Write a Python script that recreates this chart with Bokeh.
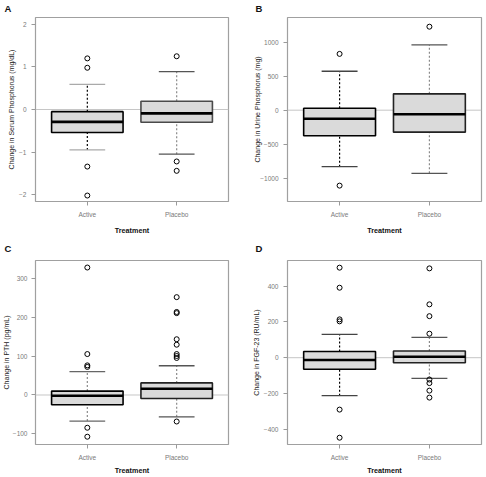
from bokeh.plotting import figure
from bokeh.models import Range1d, FixedTicker, Span, Title
from bokeh.layouts import gridplot
from bokeh.embed import file_html
from bokeh.resources import INLINE

groups = ["Active", "Placebo"]
group_x = [1, 2]

# Panel A: serum phosphorus (mg/dL)
serum_lower = [-0.95, -1.05]
serum_q1 = [-0.54, -0.30]
serum_median = [-0.29, -0.09]
serum_q3 = [-0.05, 0.195]
serum_upper = [0.59, 0.89]
serum_out_active = [1.20, 0.98, -1.34, -2.02]
serum_out_placebo = [1.25, -1.22, -1.44]
serum_ticks = [-2, -1, 0, 1, 2]

# Panel B: urine phosphorus (mg)
urine_lower = [-829, -927]
urine_q1 = [-375, -322]
urine_median = [-126, -59]
urine_q3 = [29, 240]
urine_upper = [571, 957]
urine_out_active = [826, -1107]
urine_out_placebo = [1225]
urine_ticks = [-1000, -500, 0, 500, 1000]

# Panel C: PTH (pg/mL)
pth_lower = [-67, -56]
pth_q1 = [-25, -9]
pth_median = [-2, 16]
pth_q3 = [10, 31]
pth_upper = [60, 75]
pth_out_active = [327, 105, 76, 72, -84, -107]
pth_out_placebo = [251, 213, 210, 143, 129, 105, 100, 95, -68]
pth_ticks = [-100, 0, 100, 200, 300]

# Panel D: FGF-23 (RU/mL)
fgf_lower = [-212, -116]
fgf_q1 = [-65, -28]
fgf_median = [-13, 5]
fgf_q3 = [35, 37]
fgf_upper = [130, 113]
fgf_out_active = [503, 391, 214, 203, -290, -447]
fgf_out_placebo = [499, 298, 232, 134, -122, -142, -184, -223]
fgf_ticks = [-400, -200, 0, 200, 400]

FONT = "Liberation Sans"
XMIN, XMAX = 0.42, 2.58


def panel(letter, ylabel, lower, q1, med, q3, upper, out_a, out_p, ticks, yr,
          width, height, borders, ylab_standoff, ylab_on_axis, ytick_standoff,
          xlab_standoff, letter_offset, letter_standoff,
          box_colors, whisker_colors, cap_colors):
    bl, br, bt, bb = borders
    p = figure(width=width, height=height, x_range=Range1d(XMIN, XMAX),
               y_range=Range1d(*yr), output_backend="svg", toolbar_location=None,
               min_border_left=bl, min_border_right=br, min_border_top=bt,
               min_border_bottom=bb)
    p.grid.visible = False
    p.outline_line_color = "#a0a0a0"
    p.outline_line_width = 1.2
    p.add_layout(Span(location=0, dimension="width", line_color="#c6c6c6",
                      line_width=1, level="underlay"))

    # whiskers
    p.segment(x0=group_x, y0=q3, x1=group_x, y1=upper, line_dash="2 2",
              line_color=whisker_colors, line_width=1.2)
    p.segment(x0=group_x, y0=lower, x1=group_x, y1=q1, line_dash="2 2",
              line_color=whisker_colors, line_width=1.2)
    # caps
    cx0 = [x - 0.2 for x in group_x]
    cx1 = [x + 0.2 for x in group_x]
    p.segment(x0=cx0, x1=cx1, y0=upper, y1=upper, line_color=cap_colors, line_width=1.3)
    p.segment(x0=cx0, x1=cx1, y0=lower, y1=lower, line_color=cap_colors, line_width=1.3)
    # boxes
    p.vbar(x=group_x, width=0.8, bottom=q1, top=q3, fill_color="#dadada",
           line_color=box_colors, line_width=1.6)
    # medians
    mx0 = [x - 0.4 for x in group_x]
    mx1 = [x + 0.4 for x in group_x]
    p.segment(x0=mx0, x1=mx1, y0=med, y1=med, line_color="black", line_width=2.6)
    # outliers
    ox = [group_x[0]] * len(out_a) + [group_x[1]] * len(out_p)
    oy = list(out_a) + list(out_p)
    p.scatter(ox, oy, size=5, fill_color=None, line_color="black", line_width=1)

    # axes
    p.xaxis.ticker = FixedTicker(ticks=group_x)
    p.xaxis.major_label_overrides = {group_x[0]: groups[0], group_x[1]: groups[1]}
    p.yaxis.ticker = FixedTicker(ticks=ticks)
    p.axis.axis_line_color = None
    p.axis.minor_tick_line_color = None
    p.axis.major_tick_line_color = "#9a9a9a"
    p.axis.major_tick_out = 4
    p.axis.major_tick_in = 0
    p.xaxis.major_label_standoff = 5
    p.yaxis.major_label_standoff = ytick_standoff
    p.axis.major_label_text_font = FONT
    p.axis.major_label_text_font_size = "6.5px"
    p.axis.major_label_text_color = "#7a7a7a"

    p.xaxis.axis_label = "Treatment"
    p.xaxis.axis_label_text_font = FONT
    p.xaxis.axis_label_text_font_size = "7.2px"
    p.xaxis.axis_label_text_font_style = "bold"
    p.xaxis.axis_label_text_color = "#111111"
    p.xaxis.axis_label_standoff = xlab_standoff

    if ylab_on_axis:
        p.yaxis.axis_label = ylabel
        p.yaxis.axis_label_text_font = FONT
        p.yaxis.axis_label_text_font_size = "7px"
        p.yaxis.axis_label_text_font_style = "normal"
        p.yaxis.axis_label_text_color = "#222222"
        p.yaxis.axis_label_standoff = ylab_standoff
    else:
        p.add_layout(Title(text=ylabel, align="center", text_font=FONT,
                           text_font_size="7px", text_font_style="normal",
                           text_color="#222222", standoff=ylab_standoff), "left")

    p.title.text = letter
    p.title.text_font = FONT
    p.title.text_font_size = "9.5px"
    p.title.text_font_style = "bold"
    p.title.text_color = "#111111"
    p.title.align = "left"
    p.title.vertical_align = "top"
    p.title.offset = letter_offset
    p.title.standoff = letter_standoff
    return p


pA = panel("A", "Change in Serum Phosphorus (mg/dL)", serum_lower, serum_q1,
           serum_median, serum_q3, serum_upper, serum_out_active, serum_out_placebo,
           serum_ticks, (-2.16, 2.16), 243, 237, (33, 15, 17, 36), 4, False, 5, 5, -31, 3,
           ["black", "#4a4a4a"], ["black", "#8a8a8a"], ["#aaaaaa", "#555555"])
pB = panel("B", "Change in Urine Phosphorus (mg)", urine_lower, urine_q1,
           urine_median, urine_q3, urine_upper, urine_out_active, urine_out_placebo,
           urine_ticks, (-1340, 1360), 243, 237, (44, 5, 17, 36), -4, True, 5, 5, -32, 3,
           ["black", "#222222"], ["black", "#8a8a8a"], ["#444444", "#555555"])
pC = panel("C", "Change in PTH (pg/mL)", pth_lower, pth_q1, pth_median, pth_q3,
           pth_upper, pth_out_active, pth_out_placebo, pth_ticks, (-127, 345),
           243, 240, (33, 15, 23, 33), 0, False, 4, 2, -31, 9,
           ["black", "#222222"], ["#8a8a8a", "#8a8a8a"], ["#666666", "#555555"])
pD = panel("D", "Change in FGF-23 (RU/mL)", fgf_lower, fgf_q1, fgf_median, fgf_q3,
           fgf_upper, fgf_out_active, fgf_out_placebo, fgf_ticks, (-485, 543),
           243, 240, (44, 5, 23, 33), 2, False, 5, 2, -32, 9,
           ["black", "#222222"], ["black", "#8a8a8a"], ["#444444", "#555555"])

grid = gridplot([[pA, pB], [pC, pD]], toolbar_location=None)

open("out.html", "w").write(file_html(grid, INLINE))
